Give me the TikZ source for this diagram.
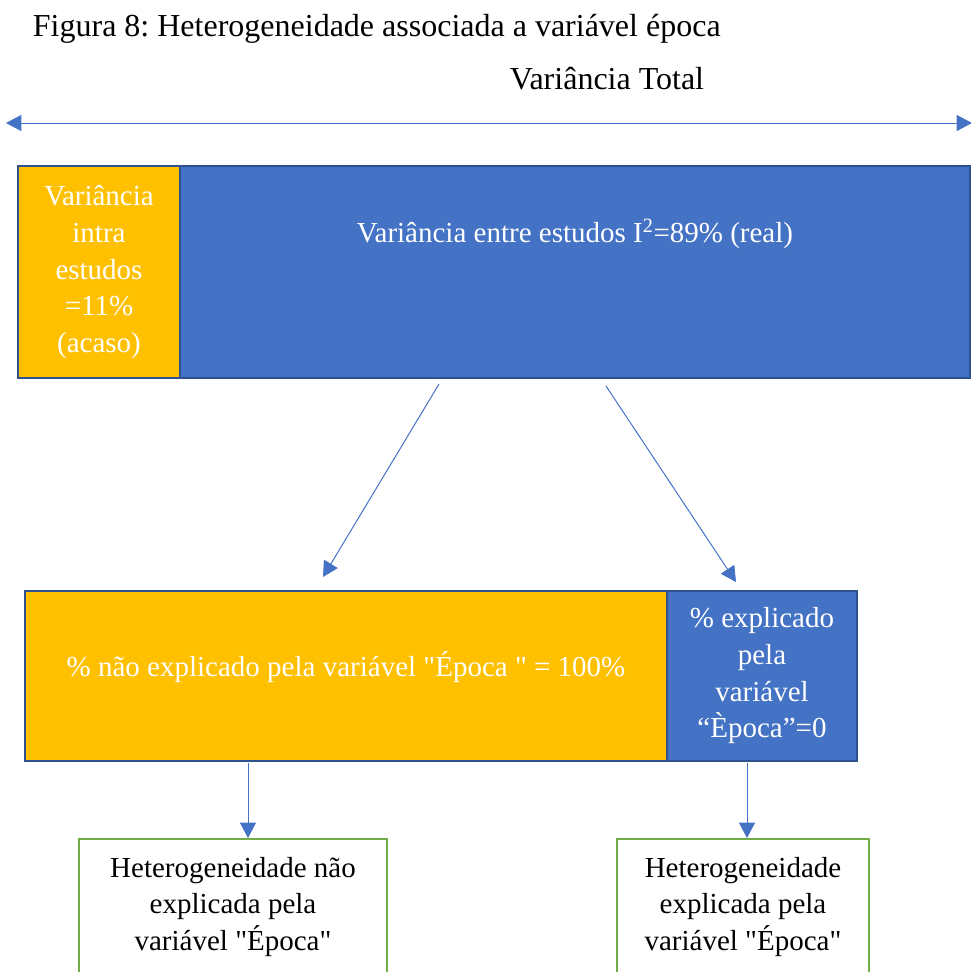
\documentclass[tikz,border=0pt]{standalone}
\usepackage{fontspec}
\setmainfont{Liberation Serif}
\usetikzlibrary{arrows.meta,calc}

\tikzset{every picture/.style={line width=0.75pt}}
\tikzset{
  ponta/.tip={Triangle[length=11.5pt,width=12pt]},
  seta/.style={draw={rgb,255:red,68;green,114;blue,196}, line width=0.75pt, -{ponta}},
  caixa/.style={draw={rgb,255:red,47;green,82;blue,143}, line width=1.5pt, inner sep=0pt, outer sep=0pt, text=white, align=center, font=\fontsize{21.75}{27.5}\selectfont},
  laranja/.style={caixa, fill={rgb,255:red,255;green,192;blue,0}},
  azul/.style={caixa, fill={rgb,255:red,68;green,114;blue,196}},
  verde/.style={caixa, draw={rgb,255:red,112;green,173;blue,71}, fill=white, text=black},
  texto/.style={text=white, align=center, font=\fontsize{21.75}{27.5}\selectfont}
}

\begin{document}
\frenchspacing
\begin{tikzpicture}[x=0.75pt,y=0.75pt,yscale=-1,xscale=1]
\useasboundingbox (0,0) rectangle (971,972);
\clip (0,0) rectangle (971,972);

% Text Node
\node (titulo) [anchor=base west, font=\fontsize{24}{28}\selectfont] at (28,36) {Figura 8: Heterogeneidade associada a variável época};
% Text Node
\node (total) [anchor=base, font=\fontsize{24}{28}\selectfont] at (607,89) {Variância Total};

%Straight Lines
\coordinate (esq) at (6,123);
\coordinate (dir) at (972,123);
\draw [seta, {ponta}-{ponta}] (esq) -- (dir);

%Shape: Rectangle
\node (intra) [laranja, minimum width=121.5pt, minimum height=159pt] at (99,272) {Variância\\intra\\estudos\\=11\%\\(acaso)};
%Shape: Rectangle
\node (entre) [azul, minimum width=592.5pt, minimum height=159pt] at (575,272) {};
% Text Node
\node (entretxt) [texto] at (575,234) {Variância entre estudos I\textsuperscript{2}=89\% (real)};

%Shape: Rectangle
\node (naoexp) [laranja, minimum width=481.5pt, minimum height=127.5pt] at (346,676) {};
% Text Node
\node (naoexptxt) [texto] at (346,667) {\% não explicado pela variável \textquotedbl Época \textquotedbl{} = 100\%};
%Shape: Rectangle
\node (exp) [azul, minimum width=142.5pt, minimum height=127.5pt] at (762,676) {\% explicado\\pela\\variável\\“Època”=0};

%Shape: Rectangle
\node (hetnao) [verde, minimum width=231pt, minimum height=102pt] at (233,907) {Heterogeneidade não\\explicada pela\\variável \textquotedbl Época\textquotedbl};
%Shape: Rectangle
\node (hetexp) [verde, minimum width=189pt, minimum height=102pt] at (743,907) {Heterogeneidade\\explicada pela\\variável \textquotedbl Época\textquotedbl};

%Straight Lines
\draw [seta] ($(entre.south)+(-136,6)$) -- ($(naoexp.north)+(-23,-14)$);
\draw [seta] ($(entre.south)+(31,8)$) -- ($(exp.north)+(-26,-9)$);
\draw [seta] ($(naoexp.south)+(-98,2)$) -- ($(hetnao.north)+(15,-1)$);
\draw [seta] ($(exp.south)+(-15,2)$) -- ($(hetexp.north)+(4,-1)$);

\end{tikzpicture}
\end{document}
